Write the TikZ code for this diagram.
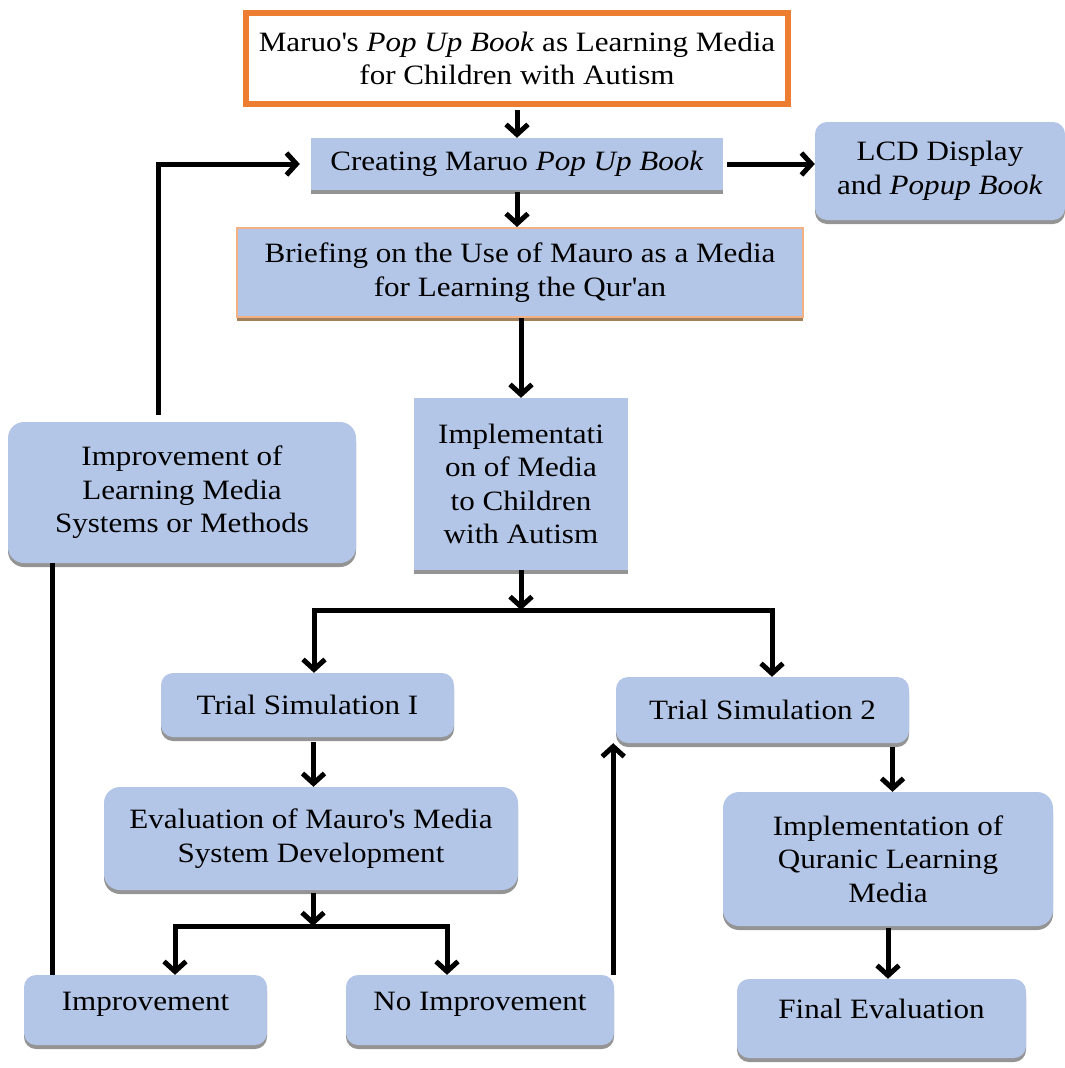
\documentclass[tikz,border=0pt]{standalone}
\usepackage{fontspec}
\setmainfont{Liberation Serif}[FakeStretch=1.11]
\usetikzlibrary{arrows.meta,shadows}
\definecolor{boxblue}{HTML}{B4C6E7}
\definecolor{orangeA}{HTML}{ED7D31}
\definecolor{orangeB}{HTML}{F4B183}
\newcommand{\ap}{\textquotesingle}
\begin{document}
\begin{tikzpicture}[x=1pt,y=-1pt,
  every node/.style={font=\fontsize{28}{33.5}\selectfont, align=center, inner sep=0pt},
  sq/.style={fill=boxblue, drop shadow={shadow xshift=0pt,shadow yshift=-4pt,fill=black!42,opacity=1}},
  rb/.style={sq, rounded corners=12pt},
  ln/.style={line width=5pt, line cap=rect},
  arr/.style={line width=5pt, -{Straight Barb[length=10pt,width=22pt]}},
]
\useasboundingbox (0,0) rectangle (1065,1068);
% boxes
\node[draw=orangeA, line width=6pt, fill=white, minimum width=542pt, minimum height=91pt] (top) at (517,58.5) {Maruo\ap s \textit{Pop Up Book} as Learning Media\\for Children with Autism};
\node[sq, minimum width=412pt, minimum height=52pt] (create) at (517,164) {Creating Maruo \textit{Pop Up Book}};
\node[rb, minimum width=250pt, minimum height=98pt] (lcd) at (940,171) {LCD Display\\and \textit{Popup Book}};
\node[fill=boxblue, draw=orangeB, line width=2pt, drop shadow={shadow xshift=0pt,shadow yshift=-4pt,fill=brown!55!gray,opacity=1}, minimum width=566pt, minimum height=89pt] (brief) at (520,272.5) {Briefing on the Use of Mauro as a Media\\for Learning the Qur\ap an};
\node[sq, minimum width=214pt, minimum height=172pt] (impl) at (521,484) {Implementati\\on of Media\\to Children\\with Autism};
\node[rb, rounded corners=16pt, minimum width=348pt, minimum height=141pt] (imprLM) at (182,492.5) {Improvement of\\Learning Media\\Systems or Methods};
\node[rb, minimum width=293pt, minimum height=64pt] (trial1) at (307.5,705) {Trial Simulation I};
\node[rb, minimum width=293pt, minimum height=66pt] (trial2) at (762.5,710) {Trial Simulation 2};
\node[rb, rounded corners=16pt, minimum width=414pt, minimum height=103pt] (eval) at (311,838.5) {Evaluation of Mauro\ap s Media\\System Development};
\node[rb, rounded corners=16pt, minimum width=330pt, minimum height=134pt] (quran) at (888,859) {Implementation of\\Quranic Learning\\Media};
\node[rb, minimum width=243pt, minimum height=70pt] (improve) at (145.5,1010) {};
\node (improvet) at (145.5,1004) {Improvement};
\node[rb, minimum width=268pt, minimum height=70pt] (noimp) at (480,1010) {};
\node (noimpt) at (480,1004) {No Improvement};
\node[rb, minimum width=289pt, minimum height=79pt] (final) at (881.5,1018.5) {};
\node (finalt) at (881.5,1009) {Final Evaluation};
% connectors
\draw[arr] (top.south) ++(0,-3pt) -- (top.south |- create.north);
\draw[arr, shorten <=4pt] (create.east) -- (create.east -| lcd.west);
\draw[arr] (create.south) ++(0,-2pt) -- (create.south |- brief.north);
\draw[arr] (impl.north |- brief.south) -- (impl.north);
\coordinate (s1) at (521,610);
\coordinate (s1L) at (314,610);
\coordinate (s1R) at (772,610);
\draw[arr] (impl.south) -- (s1);
\draw[ln] (s1L) -- (s1R);
\draw[arr] (s1L) -- (s1L |- trial1.north);
\draw[arr] (s1R) -- (s1R |- trial2.north);
\draw[arr] ([xshift=6pt,yshift=-5pt]trial1.south) -- ([xshift=6pt]trial1.south |- eval.north);
\coordinate (s2) at (313,926);
\coordinate (s2L) at (175,926);
\coordinate (s2R) at (447,926);
\draw[arr] ([yshift=-3pt]eval.south -| s2) -- (s2);
\draw[ln] (s2L) -- (s2R);
\draw[arr] (s2L) -- (s2L |- improve.north);
\draw[arr] (s2R) -- (s2R |- noimp.north);
\draw[arr] ([xshift=-1pt]noimp.north east) -- ([xshift=-1pt]noimp.north east |- trial2.south);
\draw[arr] ([xshift=130pt,yshift=-4pt]trial2.south) -- ([xshift=130pt]trial2.south |- quran.north);
\draw[arr] ([yshift=-2pt]quran.south) -- (quran.south |- final.north);
\draw[line width=5pt] ([xshift=29pt]improve.north west) -- ([xshift=29pt]improve.north west |- imprLM.south);
\draw[arr] ([xshift=-24pt,yshift=7pt]imprLM.north) |- ([xshift=-11pt]create.west);
\end{tikzpicture}
\end{document}
